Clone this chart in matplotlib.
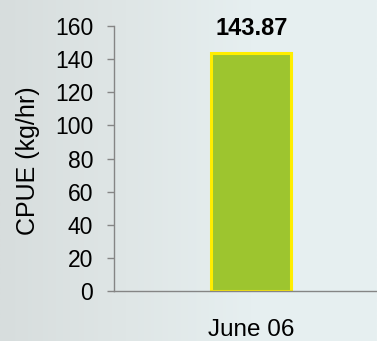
import matplotlib.pyplot as plt
import numpy as np
from matplotlib.colors import LinearSegmentedColormap

# CPUE for the single sampling month
months = ['June 06']
cpue = [143.87]

plt.rcParams['font.family'] = ['Liberation Sans', 'DejaVu Sans']

fig = plt.figure(figsize=(3.77, 3.41), dpi=100, facecolor='#e6eff0')

# soft grey-to-pale-blue backdrop, darker towards the left edge
bg = fig.add_axes([0, 0, 1, 1], zorder=-1)
bg.axis('off')
shade = LinearSegmentedColormap.from_list('shade', ['#d7dddd', '#dfe6e6', '#e6eff0', '#e7f0f1'])
grad = np.linspace(0, 1, 256)[None, :]
bg.imshow(grad, aspect='auto', cmap=shade, extent=[0, 1, 0, 1])

ax = fig.add_axes([0.3024, 0.1466, 0.72, 0.777])
ax.set_facecolor('none')

x = range(len(months))
bars = ax.bar(x, cpue, width=0.33, color='#9dc52f', edgecolor='#ffee00', linewidth=2.2)
for b, v in zip(bars, cpue):
    ax.text(b.get_x() + b.get_width() / 2, v + 8, '%.2f' % v,
            ha='center', va='bottom', fontsize=17, fontweight='bold')

ax.set_xlim(-0.568, 0.555)
ax.set_ylim(0, 160)
ax.set_yticks(range(0, 161, 20))
ax.set_xticks(list(x))
ax.set_xticklabels(months)

ax.spines['top'].set_visible(False)
ax.spines['right'].set_visible(False)
for s in ('left', 'bottom'):
    ax.spines[s].set_color('#858585')
    ax.spines[s].set_linewidth(1.0)

ax.tick_params(axis='y', length=5, width=1, color='#858585', pad=10, labelsize=16.5)
ax.tick_params(axis='x', length=0, pad=20, labelsize=17.5)

fig.text(28 / 377, 0.53, 'CPUE (kg/hr)', rotation=90, ha='center', va='center', fontsize=18)

fig.savefig('out.png', dpi=100, facecolor=fig.get_facecolor())
